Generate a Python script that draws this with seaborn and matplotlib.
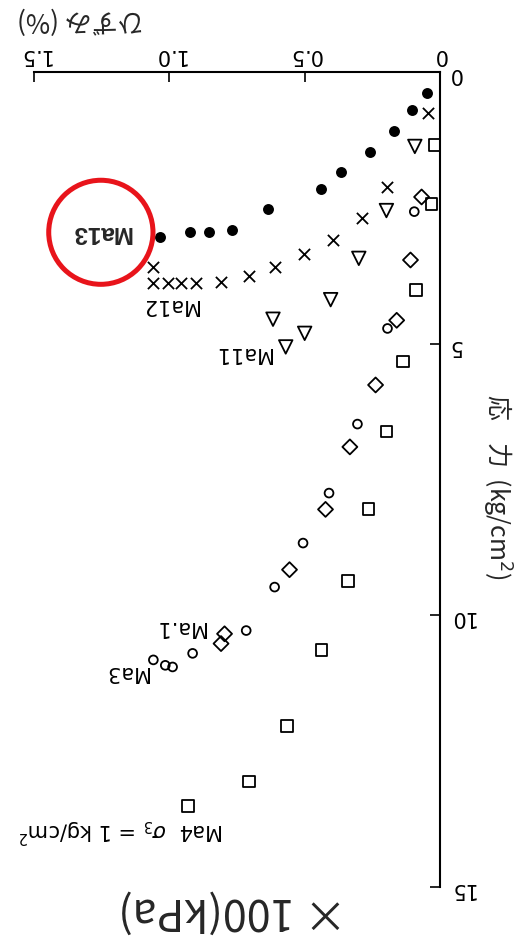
import numpy as np
import pandas as pd
import matplotlib
matplotlib.use("Agg")
import matplotlib.pyplot as plt
from matplotlib.patches import Ellipse
import seaborn as sns

# ---------------- data (strain %, stress kg/cm2) ----------------
ma13_strain = [0.049, 0.105, 0.169, 0.257, 0.367, 0.441, 0.636, 0.769, 0.854, 0.922, 1.033]
ma13_stress = [0.39, 0.70, 1.08, 1.47, 1.84, 2.15, 2.53, 2.90, 2.94, 2.95, 3.03]

ma12_strain = [0.046, 0.195, 0.290, 0.395, 0.504, 0.610, 0.706, 0.809, 0.901, 0.957, 1.006, 1.059, 1.059]
ma12_stress = [0.75, 2.12, 2.68, 3.09, 3.35, 3.59, 3.75, 3.86, 3.89, 3.89, 3.89, 3.89, 3.59]

ma11_strain = [0.093, 0.198, 0.300, 0.404, 0.500, 0.570, 0.617]
ma11_stress = [1.37, 2.55, 3.43, 4.19, 4.81, 5.06, 4.55]

ma1_strain = [0.068, 0.109, 0.160, 0.238, 0.333, 0.423, 0.556, 0.796, 0.809]
ma1_stress = [2.30, 3.46, 4.57, 5.76, 6.90, 8.05, 9.16, 10.34, 10.52]

ma3_strain = [0.095, 0.194, 0.305, 0.410, 0.506, 0.611, 0.716, 0.914, 0.988, 1.015, 1.059]
ma3_stress = [2.57, 4.72, 6.48, 7.75, 8.67, 9.48, 10.28, 10.70, 10.95, 10.92, 10.82]

ma4_strain = [0.019, 0.031, 0.089, 0.136, 0.198, 0.265, 0.340, 0.438, 0.565, 0.706, 0.931]
ma4_stress = [1.34, 2.43, 4.01, 5.33, 6.62, 8.04, 9.37, 10.64, 12.04, 13.06, 13.51]

strain_ticks = [0, 0.5, 1.0, 1.5]
strain_ticklabels = ["0", "0.5", "1.0", "1.5"]
stress_ticks = [0, 5, 10, 15]
stress_ticklabels = ["0", "5", "10", "15"]

series = {
    "Ma13": (ma13_strain, ma13_stress),
    "Ma12": (ma12_strain, ma12_stress),
    "Ma11": (ma11_strain, ma11_stress),
    "Ma1": (ma1_strain, ma1_stress),
    "Ma3": (ma3_strain, ma3_stress),
    "Ma4": (ma4_strain, ma4_stress),
}
df = pd.concat(
    [pd.DataFrame({"strain": s, "stress": t, "series": k}) for k, (s, t) in series.items()],
    ignore_index=True,
)

# ---------------- styling ----------------
sns.set_style("white")
plt.rcParams["font.family"] = ["DejaVu Sans", "Noto Sans CJK JP"]
jp = ["Noto Sans CJK JP", "DejaVu Sans"]

fig = plt.figure(figsize=(5.18, 9.39), dpi=100)
ax = fig.add_axes([34 / 518, 1 - 887 / 939, (440 - 34) / 518, (887 - 72) / 939])

styles = {
    "Ma13": dict(marker="o", s=62, color="black", linewidth=0),
    "Ma12": dict(marker="x", s=65, color="black", linewidth=1.3),
    "Ma11": dict(marker="v", s=95, facecolor="none", edgecolor="black", linewidth=1.3),
    "Ma1": dict(marker="D", s=58, facecolor="none", edgecolor="black", linewidth=1.3),
    "Ma3": dict(marker="o", s=40, facecolor="none", edgecolor="black", linewidth=1.3),
    "Ma4": dict(marker="s", s=68, facecolor="none", edgecolor="black", linewidth=1.3),
}
for name, kw in styles.items():
    sub = df[df["series"] == name]
    sns.scatterplot(data=sub, x="strain", y="stress", ax=ax, legend=False, **kw)

# display is rotated 180 degrees: strain increases to the left, stress downward
ax.set_xlim(1.5, 0)
ax.set_ylim(15, 0)
ax.xaxis.tick_top()
ax.yaxis.tick_right()
ax.set_xticks(strain_ticks)
ax.set_xticklabels(strain_ticklabels)
ax.set_yticks(stress_ticks)
ax.set_yticklabels(stress_ticklabels)
ax.tick_params(axis="both", direction="in", length=7, width=1.2, labelsize=15,
               labelrotation=180, colors="black")
ax.tick_params(axis="x", pad=5)
ax.tick_params(axis="y", pad=6)
ax.set_xlabel("")
ax.set_ylabel("")
for sp in ["left", "bottom"]:
    ax.spines[sp].set_visible(False)
for sp in ["top", "right"]:
    ax.spines[sp].set_color("black")
    ax.spines[sp].set_linewidth(1.5)

# series labels (upside down)
lab = dict(rotation=180, ha="center", va="center", fontsize=15, color="black")
ax.text(1.00, 4.29, "Ma12", **lab)
ax.text(0.729, 5.18, "Ma11", **lab)
ax.text(0.963, 10.21, "Ma.1", **lab)
ax.text(1.160, 11.04, "Ma3", **lab)
ax.text(1.176, 13.96, "Ma4  $\\sigma_3$ = 1 kg/cm$^2$", **lab)

# highlighted Ma13 label
ax.text(1.253, 2.95, "Ma13", rotation=180, ha="center", va="center",
        fontsize=17.5, fontweight="bold", family=["Liberation Sans", "DejaVu Sans"])
ax.add_patch(Ellipse((1.253, 2.95), width=104 / 270, height=104 / 54.3,
                     facecolor="none", edgecolor="#e8141b", linewidth=3.6, clip_on=False))

# axis titles (upside down)
fig.text(80 / 518, 1 - 20 / 939, "ひずみ (%)", rotation=180, ha="center", va="center",
         fontsize=19, family=jp)
fig.text(497 / 518, 1 - 487 / 939, "応    力  (kg/cm$^2$)", rotation=270, ha="center",
         va="center", fontsize=18, family=jp)
fig.text(233 / 518, 1 - 910 / 939, "× 100(kPa)", rotation=180, ha="center", va="center",
         fontsize=31, family=jp)

fig.savefig("out.png", dpi=100, facecolor="white")
